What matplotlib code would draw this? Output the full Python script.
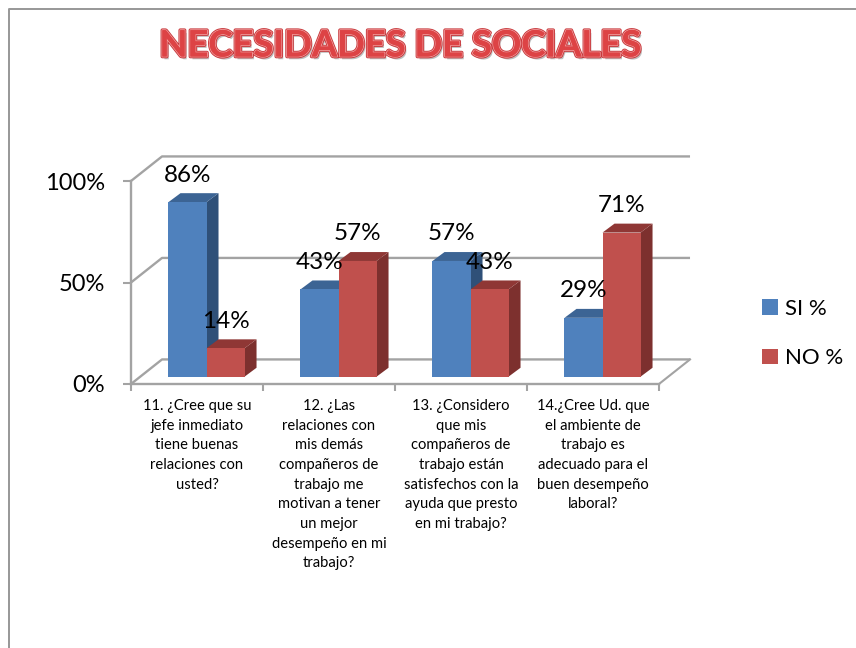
import matplotlib
matplotlib.use("Agg")
import matplotlib.pyplot as plt
import matplotlib.patheffects as pe
from matplotlib.lines import Line2D
from matplotlib.patches import Patch, Polygon

plt.rcParams["font.family"] = ["Lato", "DejaVu Sans"]

# Survey results
questions = [
    "11. ¿Cree que su\njefe inmediato\ntiene buenas\nrelaciones con\nusted?",
    "12. ¿Las\nrelaciones con\nmis demás\ncompañeros de\ntrabajo me\nmotivan a tener\nun mejor\ndesempeño en mi\ntrabajo?",
    "13. ¿Considero\nque mis\ncompañeros de\ntrabajo están\nsatisfechos con la\nayuda que presto\nen mi trabajo?",
    "14.¿Cree Ud. que\nel ambiente de\ntrabajo es\nadecuado para el\nbuen desempeño\nlaboral?",
]
si_values = [86, 43, 57, 29]
no_values = [14, 57, 43, 71]
y_ticks = [0, 50, 100]
title_text = "NECESIDADES DE SOCIALES"

# Oblique projection offsets, in data units
WALL_DX, WALL_DY = 0.235, 12.1
BAR_SHIFT_X, BAR_SHIFT_Y = 0.072, 3.6
BAR_DEPTH_X, BAR_DEPTH_Y = 0.091, 4.4
BAR_WIDTH = 0.288
GREY = "#a3a3a3"

W, H = 856, 648
fig = plt.figure(figsize=(W / 100, H / 100), dpi=100, facecolor="white")
ax = fig.add_axes([131 / W, (H - 384) / H, 528 / W, 203 / H])
ax.set_xlim(0, 4)
ax.set_ylim(0, 100)
ax.patch.set_visible(False)


def draw_bar3d(x, value, front, side, top):
    """One extruded column whose front face starts at x."""
    y0 = BAR_SHIFT_Y
    y1 = y0 + value
    x1 = x + BAR_WIDTH
    dx, dy = BAR_DEPTH_X, BAR_DEPTH_Y
    ax.add_patch(Polygon([(x1, y0), (x1 + dx, y0 + dy), (x1 + dx, y1 + dy), (x1, y1)],
                         facecolor=side, edgecolor="none", zorder=3, clip_on=False))
    ax.add_patch(Polygon([(x, y1), (x + dx, y1 + dy), (x1 + dx, y1 + dy), (x1, y1)],
                         facecolor=top, edgecolor="none", zorder=3, clip_on=False))
    ax.bar(x, value, width=BAR_WIDTH, bottom=y0, align="edge", color=front,
           edgecolor="none", zorder=3, clip_on=False)
    ax.text(x + BAR_WIDTH / 2, y1 + 13.3, f"{value}%", ha="center", va="center",
            fontsize=17.5, color="black", zorder=6)


# Walls and floor gridlines
for tick in y_ticks:
    ax.plot([0, WALL_DX, 4 + WALL_DX], [tick, tick + WALL_DY, tick + WALL_DY],
            color=GREY, lw=1.7, zorder=1, clip_on=False, solid_capstyle="butt")
ax.plot([4, 4 + WALL_DX], [0, WALL_DY], color=GREY, lw=1.5, zorder=1, clip_on=False)

# Columns
for i, (si, no) in enumerate(zip(si_values, no_values)):
    centre = i + 0.5 + BAR_SHIFT_X
    draw_bar3d(centre - BAR_WIDTH, si, "#4f81bd", "#2f5078", "#3c6494")
    draw_bar3d(centre, no, "#c0504d", "#7d302e", "#8f3735")

# Axes
for name in ("top", "right"):
    ax.spines[name].set_visible(False)
for name in ("left", "bottom"):
    ax.spines[name].set_color(GREY)
    ax.spines[name].set_linewidth(1.7)
ax.set_xticks(range(5))
ax.set_xticklabels([])
ax.set_yticks(y_ticks)
ax.set_yticklabels([f"{t}%" for t in y_ticks], fontsize=17)
ax.tick_params(axis="y", length=6, width=1.5, color=GREY, pad=12.5)
ax.tick_params(axis="x", length=5, width=1.5, color=GREY)
ax.set_xticks([i + 0.5 for i in range(4)], minor=True)
ax.set_xticklabels(questions, minor=True, fontsize=10.6, linespacing=1.51, ha="center")
ax.tick_params(axis="x", which="minor", length=0, pad=11)

# Legend
handles = [Patch(facecolor="#4f81bd", label="SI %"), Patch(facecolor="#c0504d", label="NO %")]
fig.legend(handles=handles, loc="center left", bbox_to_anchor=(762 / W, (H - 333.5) / H),
           frameon=False, fontsize=16, handlelength=0.7, handleheight=0.7,
           handletextpad=0.34, labelspacing=1.33, borderpad=0, borderaxespad=0)

# WordArt-style heading
fig.text(400 / W, (H - 46) / H, title_text, ha="center", va="center", fontsize=26.2,
         fontweight="bold", color="#dd4345",
         path_effects=[
             pe.withSimplePatchShadow(offset=(1.5, -2), shadow_rgbFace="#808080", alpha=0.5),
             pe.withStroke(linewidth=2.6, foreground="#c7393c"),
             pe.withStroke(linewidth=1.3, foreground="#f29a9b"),
             pe.Normal(),
         ])

# Page frame
fig.add_artist(Line2D([9 / W, 9 / W, 1], [0, (H - 9) / H, (H - 9) / H], color="#979797", lw=1.4))

fig.savefig("out.png", dpi=100, facecolor="white")
